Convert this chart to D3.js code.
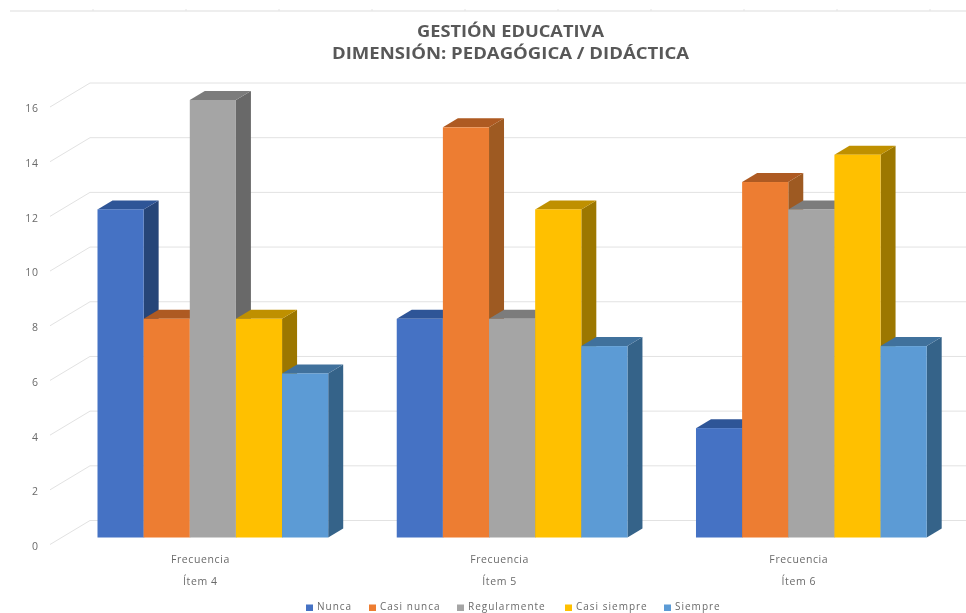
<!DOCTYPE html>
<html>
<head>
<meta charset="utf-8">
<script src="https://cdn.jsdelivr.net/npm/d3@7/dist/d3.min.js"></script>
<style>
html,body{margin:0;padding:0;background:#fff;overflow:hidden}
svg{display:block}
</style>
</head>
<body>
<div id="chart"></div>
<script>
const items = ["Ítem 4", "Ítem 5", "Ítem 6"];
const subLabel = "Frecuencia";
const seriesNames = ["Nunca", "Casi nunca", "Regularmente", "Casi siempre", "Siempre"];
const nunca = [12, 8, 4];
const casiNunca = [8, 15, 13];
const regularmente = [16, 8, 12];
const casiSiempre = [8, 12, 14];
const siempre = [6, 7, 7];
const seriesValues = [nunca, casiNunca, regularmente, casiSiempre, siempre];
const frontColors = ["#4472c4", "#ed7d31", "#a5a5a5", "#ffc000", "#5b9bd5"];
const topColors = ["#2f5597", "#ae5a21", "#7c7c7c", "#bf9000", "#41719c"];
const sideColors = ["#264478", "#9e5a20", "#696969", "#9c7700", "#366389"];
const yTicks = [0, 2, 4, 6, 8, 10, 12, 14, 16];
const titleLines = ["GESTIÓN EDUCATIVA", "DIMENSIÓN: PEDAGÓGICA / DIDÁCTICA"];
const titleWidths = [187, 357];

const W = 966, H = 613;
const depthX = 15, depthY = 9;
const svg = d3.select("#chart").append("svg").attr("width", W).attr("height", H);
const defs = svg.append("defs");
defs.append("filter").attr("id", "soft").attr("x", "-2%").attr("y", "-2%").attr("width", "104%").attr("height", "104%")
  .append("feGaussianBlur").attr("stdDeviation", 0.55);
const root = svg.append("g").attr("filter", "url(#soft)");
root.append("rect").attr("width", W).attr("height", H).attr("fill", "#fff");

const y = d3.scaleLinear().domain([0, 16]).range([537.5, 100]);
const x0 = d3.scaleBand().domain(items).range([97.5, 926.7]).paddingInner(0.229).paddingOuter(0);
const x1 = d3.scaleBand().domain(seriesNames).range([0, x0.bandwidth()]);

// scan line at the top of the picture
const topRule = root.append("g");
topRule.append("line").attr("x1", 10).attr("x2", W).attr("y1", 11).attr("y2", 11)
  .attr("stroke", "#dedede").attr("stroke-width", 1.2);
topRule.selectAll("line.t").data(d3.range(1, 11)).join("line").attr("class", "t")
  .attr("x1", i => i * 93).attr("x2", i => i * 93).attr("y1", 9).attr("y2", 11)
  .attr("stroke", "#e4e4e4");

// walls and gridlines
const wallDX = 40, wallDY = 24, backShift = 17;
const grid = root.append("g").attr("stroke", "#e2e2e2").attr("stroke-width", 1).attr("fill", "none");
grid.selectAll("path").data(yTicks).join("path")
  .attr("d", t => {
    const by = y(t) - backShift;
    return `M${90 - wallDX},${by + wallDY}L90,${by}L${W},${by}`;
  });

// axis labels
const yAxis = d3.axisLeft(y).tickValues(yTicks).tickSize(0).tickPadding(0).tickFormat(d3.format("d"));
const axisG = root.append("g").attr("transform", "translate(38.5,8.5)").call(yAxis);
axisG.select(".domain").remove();
axisG.selectAll("text").attr("font-family", "'Open Sans'").attr("font-size", 10.5).attr("letter-spacing", 0.6).attr("fill", "#6a6a6a");

// bars, painted left to right
const groups = root.selectAll("g.group").data(items).join("g").attr("class", "group")
  .attr("transform", d => `translate(${x0(d)},0)`);
const bars = groups.selectAll("g.bar")
  .data((item, gi) => seriesNames.map((name, si) => ({ name, si, value: seriesValues[si][gi] })))
  .join("g").attr("class", "bar");
const bw = x1.bandwidth();
bars.append("path").attr("fill", d => sideColors[d.si]).attr("d", d => {
  const l = x1(d.name) + bw, t = y(d.value), b = y(0);
  return `M${l},${t}L${l + depthX},${t - depthY}L${l + depthX},${b - depthY}L${l},${b}Z`;
});
bars.append("path").attr("fill", d => topColors[d.si]).attr("d", d => {
  const l = x1(d.name), t = y(d.value);
  return `M${l},${t}L${l + depthX},${t - depthY}L${l + bw + depthX},${t - depthY}L${l + bw},${t}Z`;
});
bars.append("rect").attr("fill", d => frontColors[d.si])
  .attr("x", d => x1(d.name)).attr("y", d => y(d.value))
  .attr("width", bw).attr("height", d => y(0) - y(d.value));

// category labels
const labelShift = -12.5;
const labelFont = "'Open Sans'";
const cats = root.selectAll("g.cat").data(items).join("g").attr("class", "cat")
  .attr("transform", d => `translate(${x0(d) + x0.bandwidth() / 2 + labelShift},0)`)
  .attr("text-anchor", "middle").attr("font-family", labelFont).attr("font-size", 10.5).attr("fill", "#6a6a6a");
cats.append("text").attr("y", 563).attr("letter-spacing", 0.6).text(subLabel);
cats.append("text").attr("y", 585).attr("letter-spacing", 0.6).text(d => d);

// title
root.selectAll("text.title").data(titleLines).join("text").attr("class", "title")
  .attr("x", 510.5).attr("y", (d, i) => 36.5 + i * 22.2)
  .attr("text-anchor", "middle").attr("font-family", "'Open Sans'").attr("font-weight", 700)
  .attr("font-size", 15.5).attr("fill", "#595959")
  .attr("textLength", (d, i) => titleWidths[i]).attr("lengthAdjust", "spacingAndGlyphs").text(d => d);

// legend
const legendSwatchX = [306, 369, 457, 565, 664];
const legend = root.selectAll("g.leg").data(seriesNames).join("g").attr("class", "leg")
  .attr("transform", (d, i) => `translate(${legendSwatchX[i]},0)`);
legend.append("rect").attr("y", 604.5).attr("width", 7).attr("height", 6.5)
  .attr("fill", (d, i) => frontColors[i]);
legend.append("text").attr("x", 11).attr("y", 610).attr("font-family", labelFont)
  .attr("font-size", 10).attr("letter-spacing", 1).attr("fill", "#6a6a6a").text(d => d);
</script>
</body>
</html>
